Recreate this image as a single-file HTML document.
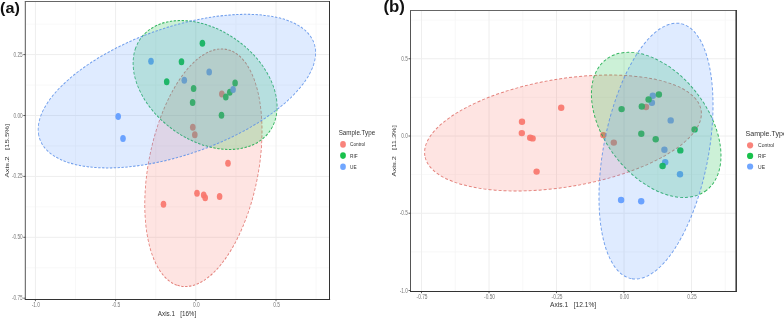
<!DOCTYPE html>
<html><head><meta charset="utf-8"><title>PCoA</title>
<style>
html,body{margin:0;padding:0;background:#fff;}
body{width:784px;height:318px;overflow:hidden;}
svg{display:block;font-family:"Liberation Sans",sans-serif;}
</style></head><body>
<svg width="784" height="318" viewBox="0 0 784 318">
<rect width="784" height="318" fill="#fff"/>

<clipPath id="ca"><rect x="25.3" y="1.5" width="304.2" height="298.0"/></clipPath><rect x="25.3" y="1.5" width="304.2" height="298.0" fill="#fff"/><line x1="75.5" x2="75.5" y1="1.5" y2="299.5" stroke="#f5f5f5" stroke-width="0.7"/><line x1="155.70000000000002" x2="155.70000000000002" y1="1.5" y2="299.5" stroke="#f5f5f5" stroke-width="0.7"/><line x1="235.9" x2="235.9" y1="1.5" y2="299.5" stroke="#f5f5f5" stroke-width="0.7"/><line x1="316.1" x2="316.1" y1="1.5" y2="299.5" stroke="#f5f5f5" stroke-width="0.7"/><line y1="24.150000000000006" y2="24.150000000000006" x1="25.3" x2="329.5" stroke="#f5f5f5" stroke-width="0.7"/><line y1="85.05" y2="85.05" x1="25.3" x2="329.5" stroke="#f5f5f5" stroke-width="0.7"/><line y1="145.95" y2="145.95" x1="25.3" x2="329.5" stroke="#f5f5f5" stroke-width="0.7"/><line y1="206.85" y2="206.85" x1="25.3" x2="329.5" stroke="#f5f5f5" stroke-width="0.7"/><line y1="267.75" y2="267.75" x1="25.3" x2="329.5" stroke="#f5f5f5" stroke-width="0.7"/><line x1="35.400000000000006" x2="35.400000000000006" y1="1.5" y2="299.5" stroke="#eeeeee" stroke-width="1"/><line x1="115.60000000000001" x2="115.60000000000001" y1="1.5" y2="299.5" stroke="#eeeeee" stroke-width="1"/><line x1="195.8" x2="195.8" y1="1.5" y2="299.5" stroke="#eeeeee" stroke-width="1"/><line x1="276.0" x2="276.0" y1="1.5" y2="299.5" stroke="#eeeeee" stroke-width="1"/><line y1="54.6" y2="54.6" x1="25.3" x2="329.5" stroke="#eeeeee" stroke-width="1"/><line y1="115.5" y2="115.5" x1="25.3" x2="329.5" stroke="#eeeeee" stroke-width="1"/><line y1="176.4" y2="176.4" x1="25.3" x2="329.5" stroke="#eeeeee" stroke-width="1"/><line y1="237.3" y2="237.3" x1="25.3" x2="329.5" stroke="#eeeeee" stroke-width="1"/>
<g clip-path="url(#ca)"><g transform="scale(1,1.25)">
<circle cx="221.8" cy="75.20" r="2.8" fill="#F8766D" fill-opacity="0.92"/><circle cx="192.8" cy="101.84" r="2.8" fill="#F8766D" fill-opacity="0.92"/><circle cx="194.8" cy="107.76" r="2.8" fill="#F8766D" fill-opacity="0.92"/><circle cx="228.0" cy="130.64" r="2.8" fill="#F8766D" fill-opacity="0.92"/><circle cx="163.5" cy="163.36" r="2.8" fill="#F8766D" fill-opacity="0.92"/><circle cx="197.0" cy="154.64" r="2.8" fill="#F8766D" fill-opacity="0.92"/><circle cx="203.7" cy="156.08" r="2.8" fill="#F8766D" fill-opacity="0.92"/><circle cx="205.2" cy="158.16" r="2.8" fill="#F8766D" fill-opacity="0.92"/><circle cx="219.6" cy="157.20" r="2.8" fill="#F8766D" fill-opacity="0.92"/>
<circle cx="202.4" cy="34.64" r="2.8" fill="#00BA38" fill-opacity="0.92"/><circle cx="181.5" cy="49.36" r="2.8" fill="#00BA38" fill-opacity="0.92"/><circle cx="166.7" cy="65.36" r="2.8" fill="#00BA38" fill-opacity="0.92"/><circle cx="193.6" cy="70.80" r="2.8" fill="#00BA38" fill-opacity="0.92"/><circle cx="235.1" cy="66.40" r="2.8" fill="#00BA38" fill-opacity="0.92"/><circle cx="229.8" cy="73.84" r="2.8" fill="#00BA38" fill-opacity="0.92"/><circle cx="225.8" cy="77.60" r="2.8" fill="#00BA38" fill-opacity="0.92"/><circle cx="192.6" cy="82.08" r="2.8" fill="#00BA38" fill-opacity="0.92"/><circle cx="221.5" cy="92.16" r="2.8" fill="#00BA38" fill-opacity="0.92"/>
<circle cx="151.0" cy="48.96" r="2.8" fill="#619CFF" fill-opacity="0.92"/><circle cx="209.2" cy="57.68" r="2.8" fill="#619CFF" fill-opacity="0.92"/><circle cx="184.3" cy="64.16" r="2.8" fill="#619CFF" fill-opacity="0.92"/><circle cx="233.1" cy="71.60" r="2.8" fill="#619CFF" fill-opacity="0.92"/><circle cx="118.2" cy="93.20" r="2.8" fill="#619CFF" fill-opacity="0.92"/><circle cx="123.0" cy="110.88" r="2.8" fill="#619CFF" fill-opacity="0.92"/>
<ellipse cx="203.4" cy="134.2" rx="97.6" ry="54.3" transform="rotate(105.8 203.4 134.2)" fill="#F8766D" fill-opacity="0.2" stroke="#df6d66" stroke-opacity="0.85" stroke-width="0.85" stroke-dasharray="2.4 1.5"/>
<ellipse cx="205.1" cy="68.0" rx="75.5" ry="46.3" transform="rotate(-157.6 205.1 68.0)" fill="#00BA38" fill-opacity="0.2" stroke="#12a945" stroke-opacity="0.85" stroke-width="0.85" stroke-dasharray="2.4 1.5"/>
<ellipse cx="176.9" cy="72.9" rx="142.6" ry="51.8" transform="rotate(165.6 176.9 72.9)" fill="#619CFF" fill-opacity="0.2" stroke="#5a8fe9" stroke-opacity="0.85" stroke-width="0.85" stroke-dasharray="2.4 1.5"/>
</g></g>
<line x1="24.8" x2="330.0" y1="1.5" y2="1.5" stroke="#666" stroke-width="1"/><line x1="25.3" x2="25.3" y1="1.5" y2="299.5" stroke="#555" stroke-width="1"/><line x1="329.5" x2="329.5" y1="1.0" y2="300.0" stroke="#333" stroke-width="1.0"/><line x1="24.8" x2="330.1" y1="299.5" y2="299.5" stroke="#333" stroke-width="1"/><line x1="35.400000000000006" x2="35.400000000000006" y1="299.5" y2="301.2" stroke="#333" stroke-width="0.8"/><text transform="translate(35.900000000000006,307.2) scale(1,1.4)" font-size="4.8" fill="#757575" text-anchor="middle" font-weight="normal" xml:space="preserve">-1.0</text><line x1="115.60000000000001" x2="115.60000000000001" y1="299.5" y2="301.2" stroke="#333" stroke-width="0.8"/><text transform="translate(116.10000000000001,307.2) scale(1,1.4)" font-size="4.8" fill="#757575" text-anchor="middle" font-weight="normal" xml:space="preserve">-0.5</text><line x1="195.8" x2="195.8" y1="299.5" y2="301.2" stroke="#333" stroke-width="0.8"/><text transform="translate(196.3,307.2) scale(1,1.4)" font-size="4.8" fill="#757575" text-anchor="middle" font-weight="normal" xml:space="preserve">0.0</text><line x1="276.0" x2="276.0" y1="299.5" y2="301.2" stroke="#333" stroke-width="0.8"/><text transform="translate(276.5,307.2) scale(1,1.4)" font-size="4.8" fill="#757575" text-anchor="middle" font-weight="normal" xml:space="preserve">0.5</text><line x1="23.3" x2="25.3" y1="54.6" y2="54.6" stroke="#333" stroke-width="0.8"/><text transform="translate(22.6,56.6) scale(1,1.4)" font-size="4.7" fill="#757575" text-anchor="end" font-weight="normal" xml:space="preserve">0.25</text><line x1="23.3" x2="25.3" y1="115.5" y2="115.5" stroke="#333" stroke-width="0.8"/><text transform="translate(22.6,117.5) scale(1,1.4)" font-size="4.7" fill="#757575" text-anchor="end" font-weight="normal" xml:space="preserve">0.00</text><line x1="23.3" x2="25.3" y1="176.4" y2="176.4" stroke="#333" stroke-width="0.8"/><text transform="translate(22.6,178.4) scale(1,1.4)" font-size="4.7" fill="#757575" text-anchor="end" font-weight="normal" xml:space="preserve">-0.25</text><line x1="23.3" x2="25.3" y1="237.3" y2="237.3" stroke="#333" stroke-width="0.8"/><text transform="translate(22.6,239.3) scale(1,1.4)" font-size="4.7" fill="#757575" text-anchor="end" font-weight="normal" xml:space="preserve">-0.50</text><line x1="23.3" x2="25.3" y1="298.2" y2="298.2" stroke="#333" stroke-width="0.8"/><text transform="translate(22.6,300.2) scale(1,1.4)" font-size="4.7" fill="#757575" text-anchor="end" font-weight="normal" xml:space="preserve">-0.75</text>
<text transform="translate(177,316.1) scale(1,1.2)" font-size="6.3" fill="#333" text-anchor="middle" font-weight="normal" xml:space="preserve">Axis.1   [16%]</text>
<text transform="translate(8.7,150.6) rotate(-90) scale(1.31,1)" font-size="5.9" fill="#333" text-anchor="middle" font-weight="normal" xml:space="preserve">Axis.2   [15.5%]</text>
<text transform="translate(0,13.3) scale(1.06,1)" font-size="15.3" font-weight="bold" fill="#111">(a)</text>
<text transform="translate(338.7,134.6) scale(1,1.2)" font-size="6.25" fill="#333" text-anchor="start" font-weight="normal" xml:space="preserve">Sample.Type</text><ellipse cx="343" cy="144.4" rx="2.85" ry="3.3" fill="#F8766D" fill-opacity="0.9"/><text transform="translate(350.0,146.4) scale(1,1.2)" font-size="4.75" fill="#333" text-anchor="start" font-weight="normal" xml:space="preserve">Control</text><ellipse cx="343" cy="155.6" rx="2.85" ry="3.3" fill="#00BA38" fill-opacity="0.9"/><text transform="translate(350.0,157.55) scale(1,1.2)" font-size="4.75" fill="#333" text-anchor="start" font-weight="normal" xml:space="preserve">RIF</text><ellipse cx="343" cy="166.7" rx="2.85" ry="3.3" fill="#619CFF" fill-opacity="0.9"/><text transform="translate(350.0,168.70000000000002) scale(1,1.2)" font-size="4.75" fill="#333" text-anchor="start" font-weight="normal" xml:space="preserve">UE</text>
<clipPath id="cb"><rect x="410.5" y="10.5" width="325.5" height="281.0"/></clipPath><rect x="410.5" y="10.5" width="325.5" height="281.0" fill="#fff"/><line x1="455.25" x2="455.25" y1="10.5" y2="291.5" stroke="#f5f5f5" stroke-width="0.7"/><line x1="522.75" x2="522.75" y1="10.5" y2="291.5" stroke="#f5f5f5" stroke-width="0.7"/><line x1="590.25" x2="590.25" y1="10.5" y2="291.5" stroke="#f5f5f5" stroke-width="0.7"/><line x1="657.75" x2="657.75" y1="10.5" y2="291.5" stroke="#f5f5f5" stroke-width="0.7"/><line x1="725.25" x2="725.25" y1="10.5" y2="291.5" stroke="#f5f5f5" stroke-width="0.7"/><line y1="20.125" y2="20.125" x1="410.5" x2="736.0" stroke="#f5f5f5" stroke-width="0.7"/><line y1="97.375" y2="97.375" x1="410.5" x2="736.0" stroke="#f5f5f5" stroke-width="0.7"/><line y1="174.625" y2="174.625" x1="410.5" x2="736.0" stroke="#f5f5f5" stroke-width="0.7"/><line y1="251.875" y2="251.875" x1="410.5" x2="736.0" stroke="#f5f5f5" stroke-width="0.7"/><line x1="421.5" x2="421.5" y1="10.5" y2="291.5" stroke="#eeeeee" stroke-width="1"/><line x1="489.0" x2="489.0" y1="10.5" y2="291.5" stroke="#eeeeee" stroke-width="1"/><line x1="556.5" x2="556.5" y1="10.5" y2="291.5" stroke="#eeeeee" stroke-width="1"/><line x1="624.0" x2="624.0" y1="10.5" y2="291.5" stroke="#eeeeee" stroke-width="1"/><line x1="691.5" x2="691.5" y1="10.5" y2="291.5" stroke="#eeeeee" stroke-width="1"/><line y1="58.75" y2="58.75" x1="410.5" x2="736.0" stroke="#eeeeee" stroke-width="1"/><line y1="136.0" y2="136.0" x1="410.5" x2="736.0" stroke="#eeeeee" stroke-width="1"/><line y1="213.25" y2="213.25" x1="410.5" x2="736.0" stroke="#eeeeee" stroke-width="1"/>
<g clip-path="url(#cb)"><g transform="scale(1,1.0)">
<circle cx="561.2" cy="107.80" r="3.2" fill="#F8766D" fill-opacity="0.92"/><circle cx="522.0" cy="121.80" r="3.2" fill="#F8766D" fill-opacity="0.92"/><circle cx="521.8" cy="133.10" r="3.2" fill="#F8766D" fill-opacity="0.92"/><circle cx="530.2" cy="137.70" r="3.2" fill="#F8766D" fill-opacity="0.92"/><circle cx="532.6" cy="138.40" r="3.2" fill="#F8766D" fill-opacity="0.92"/><circle cx="536.6" cy="171.60" r="3.2" fill="#F8766D" fill-opacity="0.92"/><circle cx="646.0" cy="107.00" r="3.2" fill="#F8766D" fill-opacity="0.92"/><circle cx="603.3" cy="135.10" r="3.2" fill="#F8766D" fill-opacity="0.92"/><circle cx="613.8" cy="142.60" r="3.2" fill="#F8766D" fill-opacity="0.92"/>
<circle cx="652.8" cy="95.80" r="3.2" fill="#619CFF" fill-opacity="0.92"/><circle cx="651.9" cy="102.70" r="3.2" fill="#619CFF" fill-opacity="0.92"/><circle cx="670.7" cy="120.40" r="3.2" fill="#619CFF" fill-opacity="0.92"/><circle cx="664.4" cy="149.70" r="3.2" fill="#619CFF" fill-opacity="0.92"/><circle cx="665.2" cy="162.30" r="3.2" fill="#619CFF" fill-opacity="0.92"/><circle cx="680.0" cy="174.30" r="3.2" fill="#619CFF" fill-opacity="0.92"/><circle cx="621.1" cy="200.00" r="3.2" fill="#619CFF" fill-opacity="0.92"/><circle cx="641.2" cy="201.30" r="3.2" fill="#619CFF" fill-opacity="0.92"/>
<circle cx="621.6" cy="109.10" r="3.2" fill="#00BA38" fill-opacity="0.92"/><circle cx="641.8" cy="106.50" r="3.2" fill="#00BA38" fill-opacity="0.92"/><circle cx="648.6" cy="99.50" r="3.2" fill="#00BA38" fill-opacity="0.92"/><circle cx="658.9" cy="94.50" r="3.2" fill="#00BA38" fill-opacity="0.92"/><circle cx="694.6" cy="129.40" r="3.2" fill="#00BA38" fill-opacity="0.92"/><circle cx="641.3" cy="133.80" r="3.2" fill="#00BA38" fill-opacity="0.92"/><circle cx="655.7" cy="139.30" r="3.2" fill="#00BA38" fill-opacity="0.92"/><circle cx="680.3" cy="150.40" r="3.2" fill="#00BA38" fill-opacity="0.92"/><circle cx="662.6" cy="166.00" r="3.2" fill="#00BA38" fill-opacity="0.92"/>
<ellipse cx="563.0" cy="133.0" rx="140.0" ry="54.0" transform="rotate(170.6 563.0 133.0)" fill="#F8766D" fill-opacity="0.2" stroke="#df6d66" stroke-opacity="0.85" stroke-width="0.95" stroke-dasharray="3 2"/>
<ellipse cx="656.2" cy="124.9" rx="82.5" ry="51.6" transform="rotate(52.5 656.2 124.9)" fill="#00BA38" fill-opacity="0.2" stroke="#12a945" stroke-opacity="0.85" stroke-width="0.95" stroke-dasharray="3 2"/>
<ellipse cx="656.0" cy="151.1" rx="129.9" ry="52.4" transform="rotate(100.9 656.0 151.1)" fill="#619CFF" fill-opacity="0.2" stroke="#5a8fe9" stroke-opacity="0.85" stroke-width="0.95" stroke-dasharray="3 2"/>
</g></g>
<line x1="410.0" x2="736.5" y1="10.5" y2="10.5" stroke="#666" stroke-width="1"/><line x1="410.5" x2="410.5" y1="10.5" y2="291.5" stroke="#555" stroke-width="1"/><line x1="736.2" x2="736.2" y1="10.0" y2="292.0" stroke="#333" stroke-width="1.5"/><line x1="410.0" x2="736.6" y1="291.5" y2="291.5" stroke="#333" stroke-width="1"/><line x1="421.5" x2="421.5" y1="291.5" y2="293.2" stroke="#333" stroke-width="0.8"/><text transform="translate(422.0,299.2) scale(1,1.4)" font-size="4.8" fill="#757575" text-anchor="middle" font-weight="normal" xml:space="preserve">-0.75</text><line x1="489.0" x2="489.0" y1="291.5" y2="293.2" stroke="#333" stroke-width="0.8"/><text transform="translate(489.5,299.2) scale(1,1.4)" font-size="4.8" fill="#757575" text-anchor="middle" font-weight="normal" xml:space="preserve">-0.50</text><line x1="556.5" x2="556.5" y1="291.5" y2="293.2" stroke="#333" stroke-width="0.8"/><text transform="translate(557.0,299.2) scale(1,1.4)" font-size="4.8" fill="#757575" text-anchor="middle" font-weight="normal" xml:space="preserve">-0.25</text><line x1="624.0" x2="624.0" y1="291.5" y2="293.2" stroke="#333" stroke-width="0.8"/><text transform="translate(624.5,299.2) scale(1,1.4)" font-size="4.8" fill="#757575" text-anchor="middle" font-weight="normal" xml:space="preserve">0.00</text><line x1="691.5" x2="691.5" y1="291.5" y2="293.2" stroke="#333" stroke-width="0.8"/><text transform="translate(692.0,299.2) scale(1,1.4)" font-size="4.8" fill="#757575" text-anchor="middle" font-weight="normal" xml:space="preserve">0.25</text><line x1="408.5" x2="410.5" y1="58.75" y2="58.75" stroke="#333" stroke-width="0.8"/><text transform="translate(407.8,60.75) scale(1,1.4)" font-size="4.7" fill="#757575" text-anchor="end" font-weight="normal" xml:space="preserve">0.5</text><line x1="408.5" x2="410.5" y1="136.0" y2="136.0" stroke="#333" stroke-width="0.8"/><text transform="translate(407.8,138.0) scale(1,1.4)" font-size="4.7" fill="#757575" text-anchor="end" font-weight="normal" xml:space="preserve">0.0</text><line x1="408.5" x2="410.5" y1="213.25" y2="213.25" stroke="#333" stroke-width="0.8"/><text transform="translate(407.8,215.25) scale(1,1.4)" font-size="4.7" fill="#757575" text-anchor="end" font-weight="normal" xml:space="preserve">-0.5</text><line x1="408.5" x2="410.5" y1="290.5" y2="290.5" stroke="#333" stroke-width="0.8"/><text transform="translate(407.8,292.5) scale(1,1.4)" font-size="4.7" fill="#757575" text-anchor="end" font-weight="normal" xml:space="preserve">-1.0</text>
<text transform="translate(573.1,306.8) scale(1,1.135)" font-size="6.66" fill="#333" text-anchor="middle" font-weight="normal" xml:space="preserve">Axis.1   [12.1%]</text>
<text transform="translate(396.4,150.8) rotate(-90) scale(1.265,1)" font-size="5.9" fill="#333" text-anchor="middle" font-weight="normal" xml:space="preserve">Axis.2   [11.3%]</text>
<text transform="translate(383.4,12.2) scale(0.99,1)" font-size="17" font-weight="bold" fill="#111">(b)</text>
<text transform="translate(745.5,135.70000000000002) scale(1,1.05)" font-size="7.1" fill="#333" text-anchor="start" font-weight="normal" xml:space="preserve">Sample.Type</text><ellipse cx="750.1" cy="145.3" rx="3.1" ry="3.1" fill="#F8766D" fill-opacity="0.9"/><text transform="translate(758.1,147.3) scale(1,1.18)" font-size="5.0" fill="#333" text-anchor="start" font-weight="normal" xml:space="preserve">Control</text><ellipse cx="750.1" cy="155.9" rx="3.1" ry="3.1" fill="#00BA38" fill-opacity="0.9"/><text transform="translate(758.1,157.9) scale(1,1.18)" font-size="5.0" fill="#333" text-anchor="start" font-weight="normal" xml:space="preserve">RIF</text><ellipse cx="750.1" cy="166.5" rx="3.1" ry="3.1" fill="#619CFF" fill-opacity="0.9"/><text transform="translate(758.1,168.5) scale(1,1.18)" font-size="5.0" fill="#333" text-anchor="start" font-weight="normal" xml:space="preserve">UE</text>
</svg></body></html>
